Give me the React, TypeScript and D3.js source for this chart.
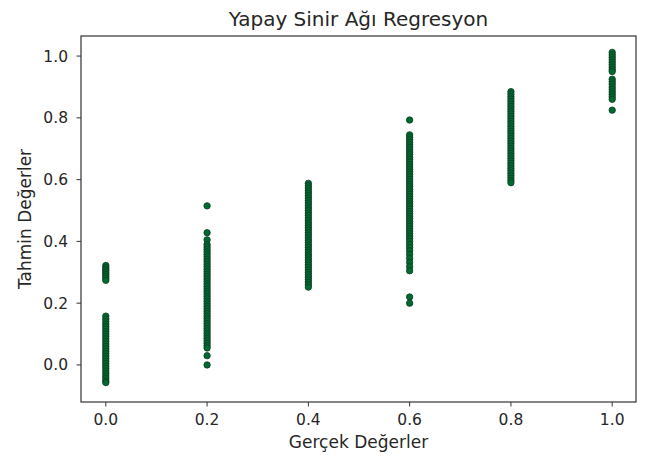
import React from "react";
import * as d3 from "d3";

const title = "Yapay Sinir Ağı Regresyon";
const xLabel = "Gerçek Değerler";
const yLabel = "Tahmin Değerler";
const xTicks = [0.0, 0.2, 0.4, 0.6, 0.8, 1.0];
const yTicks = [0.0, 0.2, 0.4, 0.6, 0.8, 1.0];

const pred00 = [0.322, 0.316, 0.31, 0.305, 0.299, 0.293, 0.287, 0.28, 0.274,
  0.158, 0.149, 0.14, 0.132, 0.124, 0.116, 0.108, 0.1, 0.092, 0.084, 0.076, 0.068, 0.06,
  0.052, 0.044, 0.036, 0.028, 0.02, 0.012, 0.004, -0.004, -0.012, -0.02, -0.028, -0.036,
  -0.044, -0.052, -0.057];
const pred02 = [0.515, 0.428, 0.405, 0.39, 0.382, 0.374, 0.366, 0.358, 0.35, 0.342, 0.334,
  0.326, 0.318, 0.31, 0.302, 0.294, 0.286, 0.278, 0.27, 0.262, 0.254, 0.246, 0.238, 0.23,
  0.222, 0.214, 0.206, 0.198, 0.19, 0.182, 0.174, 0.166, 0.158, 0.15, 0.142, 0.134, 0.126,
  0.118, 0.11, 0.102, 0.094, 0.086, 0.078, 0.07, 0.062, 0.055, 0.03, 0.0];
const pred04 = [0.588, 0.58, 0.572, 0.564, 0.556, 0.548, 0.54, 0.532, 0.524, 0.516, 0.508,
  0.5, 0.492, 0.484, 0.476, 0.468, 0.46, 0.452, 0.444, 0.436, 0.428, 0.42, 0.412, 0.404,
  0.396, 0.388, 0.38, 0.372, 0.364, 0.356, 0.348, 0.34, 0.332, 0.324, 0.316, 0.308, 0.3,
  0.292, 0.284, 0.276, 0.268, 0.26, 0.252];
const pred06 = [0.793, 0.745, 0.737, 0.729, 0.721, 0.713, 0.705, 0.697, 0.689, 0.681, 0.673,
  0.665, 0.657, 0.649, 0.641, 0.633, 0.625, 0.617, 0.609, 0.601, 0.593, 0.585, 0.577, 0.569,
  0.561, 0.553, 0.545, 0.537, 0.529, 0.521, 0.513, 0.505, 0.497, 0.489, 0.481, 0.473, 0.465,
  0.457, 0.449, 0.441, 0.433, 0.425, 0.417, 0.409, 0.4, 0.39, 0.38, 0.37, 0.358, 0.345,
  0.332, 0.318, 0.305, 0.22, 0.2];
const pred08 = [0.885, 0.877, 0.869, 0.861, 0.853, 0.845, 0.837, 0.829, 0.821, 0.813, 0.805,
  0.797, 0.789, 0.781, 0.773, 0.765, 0.757, 0.749, 0.741, 0.733, 0.725, 0.717, 0.709, 0.701,
  0.693, 0.685, 0.677, 0.669, 0.661, 0.653, 0.645, 0.637, 0.629, 0.621, 0.613, 0.605, 0.597,
  0.59];
const pred10 = [1.012, 1.004, 0.996, 0.988, 0.98, 0.972, 0.964, 0.956, 0.95, 0.925, 0.917,
  0.909, 0.9, 0.892, 0.884, 0.876, 0.868, 0.86, 0.825];

const groups: [number, number[]][] = [
  [0.0, pred00],
  [0.2, pred02],
  [0.4, pred04],
  [0.6, pred06],
  [0.8, pred08],
  [1.0, pred10],
];

export default function App() {
  const W = 648, H = 459;
  const L = 81, R = 636, T = 36, B = 402;
  const x = d3.scaleLinear().domain([-0.049, 1.047]).range([L, R]);
  const y = d3.scaleLinear().domain([-0.12, 1.065]).range([B, T]);
  const fmt = d3.format(".1f");
  const font = "'DejaVu Sans', sans-serif";
  const textCol = "#262626";
  const pts = groups.flatMap(([gx, vals]) => vals.map((v) => [gx, v] as [number, number]));
  return (
    <svg width={W} height={H} style={{ position: "absolute", left: 0, top: 0, background: "#fff" }}
      fontFamily={font}>
      <rect x={0} y={0} width={W} height={H} fill="#fff" />
      <text x={(L + R) / 2} y={26} textAnchor="middle" fontSize={20} fill={textCol}>{title}</text>
      {pts.map(([px, py], i) => (
        <circle key={i} cx={x(px)} cy={y(py)} r={3.2} fill="#006a30" stroke="#0e3a22" strokeWidth={0.8} />
      ))}
      <rect x={L} y={T} width={R - L} height={B - T} fill="none" stroke="#333" strokeWidth={1.2} />
      {xTicks.map((t) => (
        <g key={"x" + t}>
          <line x1={x(t)} x2={x(t)} y1={B} y2={B + 4.5} stroke="#333" />
          <text x={x(t)} y={425} textAnchor="middle" fontSize={15.5} fill={textCol}>{fmt(t)}</text>
        </g>
      ))}
      {yTicks.map((t) => (
        <g key={"y" + t}>
          <line x1={L - 4.5} x2={L} y1={y(t)} y2={y(t)} stroke="#333" />
          <text x={L - 13} y={y(t) + 5.5} textAnchor="end" fontSize={15.5} fill={textCol}>{fmt(t)}</text>
        </g>
      ))}
      <text x={(L + R) / 2} y={448} textAnchor="middle" fontSize={17} fill={textCol}>{xLabel}</text>
      <text transform={`translate(31, ${(T + B) / 2}) rotate(-90)`} textAnchor="middle" fontSize={17}
        fill={textCol}>{yLabel}</text>
    </svg>
  );
}
